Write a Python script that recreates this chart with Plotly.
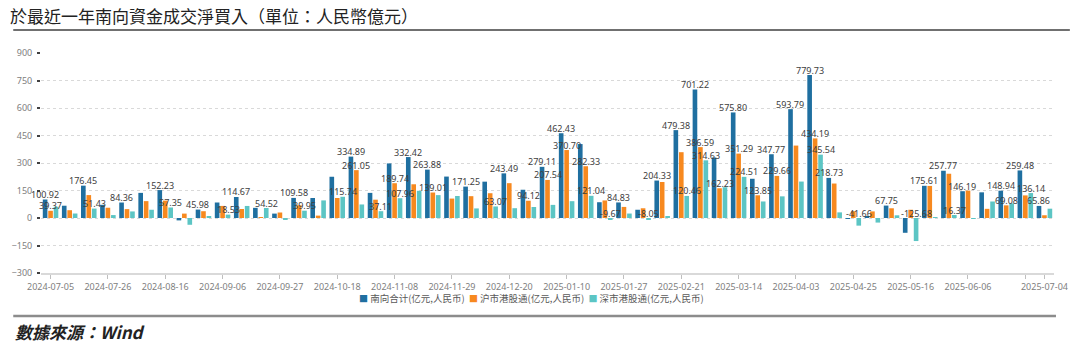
import plotly.graph_objects as go

# ---------------- data ----------------
weeks = [
    "2024-07-05", "2024-07-12", "2024-07-19", "2024-07-26", "2024-08-02", "2024-08-09",
    "2024-08-16", "2024-08-23", "2024-08-30", "2024-09-06", "2024-09-13", "2024-09-20",
    "2024-09-27", "2024-09-30", "2024-10-11", "2024-10-18", "2024-10-25", "2024-11-01",
    "2024-11-08", "2024-11-15", "2024-11-22", "2024-11-29", "2024-12-06", "2024-12-13",
    "2024-12-20", "2024-12-27", "2025-01-03", "2025-01-10", "2025-01-17", "2025-01-24",
    "2025-01-27", "2025-02-07", "2025-02-14", "2025-02-21", "2025-02-28", "2025-03-07",
    "2025-03-14", "2025-03-21", "2025-03-28", "2025-04-03", "2025-04-11", "2025-04-17",
    "2025-04-25", "2025-04-30", "2025-05-09", "2025-05-16", "2025-05-23", "2025-05-30",
    "2025-06-06", "2025-06-13", "2025-06-20", "2025-06-27", "2025-07-04",
]

south_total = [
    100.92, 67.0, 176.45, 72.0, 84.36, 137.0, 152.23, -13.0, 45.98, 84.53,
    114.67, 55.40, 24.0, 109.58, 109.0, 225.0, 334.89, 137.0, 297.70, 332.42,
    263.88, 226.0, 171.25, 198.2, 243.49, 154.12, 279.11, 462.43, 403.37, 86.0,
    84.83, 45.0, 204.33, 479.38, 701.22, 330.0, 575.80, 214.0, 347.77, 593.79,
    779.73, 218.73, -4.66, 11.0, 67.75, -80.68, 175.61, 257.77, 146.19, 140.0,
    148.94, 259.48, 65.86,
]
sh_connect = [
    39.37, 42.5, 125.02, 56.0, 48.5, 92.0, 94.88, 24.0, 37.0, 66.0,
    49.0, 0.88, 30.0, 69.63, 13.0, 109.26, 261.05, 99.89, 189.74, 184.0,
    139.01, 106.0, 119.0, 135.13, 190.0, 94.12, 207.54, 370.70, 282.33, 95.67,
    60.5, 53.05, 196.5, 358.92, 386.59, 162.23, 351.29, 123.85, 229.66, 395.0,
    434.19, 188.0, 37.0, 36.0, 53.0, 45.0, 175.0, 241.40, 149.5, 50.0,
    69.08, 123.34, 15.0,
]
sz_connect = [
    61.55, 24.5, 51.43, 16.0, 35.86, 45.0, 57.35, -37.0, 8.98, 18.53,
    65.67, 54.52, -6.0, 39.95, 96.0, 115.74, 73.84, 37.11, 107.96, 148.42,
    124.87, 120.0, 52.25, 63.07, 53.49, 60.0, 71.57, 91.73, 121.04, -9.67,
    24.33, -8.05, 7.83, 120.46, 314.63, 167.77, 224.51, 90.15, 118.11, 198.79,
    345.54, 30.73, -41.66, -25.0, 14.75, -125.68, 0.61, 16.37, -3.31, 90.0,
    79.86, 136.14, 50.86,
]

# indices of bars carrying a value label
total_labeled = [0, 2, 4, 6, 8, 10, 13, 16, 19, 20, 22, 24, 26, 27, 30, 32, 33, 34,
                 36, 38, 39, 40, 41, 44, 46, 47, 48, 50, 51, 52]
sh_labeled = [0, 16, 18, 20, 25, 26, 27, 28, 34, 35, 36, 37, 38, 40, 50]
sz_labeled = [2, 6, 9, 11, 13, 15, 17, 18, 23, 28, 29, 31, 33, 34, 36, 40, 42, 45, 47, 51]

series_names = ["南向合计(亿元,人民币)", "沪市港股通(亿元,人民币)", "深市港股通(亿元,人民币)"]
colors = ["#1F6FA0", "#F7891F", "#5CC5C4"]

tick_idx = [0, 3, 6, 9, 12, 15, 18, 21, 24, 27, 30, 33, 36, 39, 42, 45, 48, 51, 52]
y_ticks = [-300, -150, 0, 150, 300, 450, 600, 750, 900]

title_text = "於最近一年南向資金成交淨買入（單位：人民幣億元）"
source_text = "數據來源：Wind"

# ---------------- figure ----------------
W, H = 1080, 352
ml, mr, mt, mb = 38, 20, 53, 79
pw, ph = W - ml - mr, H - mt - mb

def px_x(p):
    return (p - ml) / pw

def px_y(p):
    return (H - mb - p) / ph

fig = go.Figure()
all_series = [south_total, sh_connect, sz_connect]
for name, vals, col in zip(series_names, all_series, colors):
    fig.add_trace(go.Bar(x=weeks, y=vals, name=name, showlegend=False,
                         marker=dict(color=col, line=dict(width=0))))

annotations = []
slot = pw / len(weeks) * (1 - 0.145) / 3
label_sets = [total_labeled, sh_labeled, sz_labeled]
for s, (vals, idxs) in enumerate(zip(all_series, label_sets)):
    for i in idxs:
        v = vals[i]
        annotations.append(dict(
            x=weeks[i], y=max(v, 0), xref="x", yref="y",
            text=f"{v:.2f}", showarrow=False,
            xanchor="center", yanchor="middle",
            xshift=(s - 1) * slot, yshift=5,
            font=dict(family="Noto Sans, Noto Sans CJK SC", size=9, color="#404040"),
        ))

# legend row (colour key + series names)
legend_parts = []
for name, col in zip(series_names, colors):
    legend_parts.append(f"<span style='color:{col};font-size:9px'>■</span> {name}")
annotations.append(dict(
    x=px_x(533), y=px_y(298), xref="paper", yref="paper",
    text="  ".join(legend_parts), showarrow=False,
    xanchor="center", yanchor="middle",
    font=dict(family="Noto Sans CJK SC", size=9.5, color="#595959"),
))

annotations.append(dict(
    x=px_x(10), y=px_y(331), xref="paper", yref="paper", text=source_text,
    showarrow=False, xanchor="left", yanchor="middle",
    font=dict(family="Noto Sans CJK TC", size=17, color="#222222", style="italic", weight="bold"),
))

shapes = [
    dict(type="line", xref="paper", yref="paper", x0=px_x(10), x1=px_x(1076),
         y0=px_y(30), y1=px_y(30), line=dict(color="#404040", width=1.5)),
    dict(type="line", xref="paper", yref="paper", x0=px_x(10), x1=px_x(1062),
         y0=px_y(316), y1=px_y(316), line=dict(color="#8c8c8c", width=2.5)),
]

tick_text = [weeks[i] if i != 51 else "" for i in tick_idx]

fig.update_layout(
    width=W, height=H,
    margin=dict(l=ml, r=mr, t=mt, b=mb, pad=0),
    paper_bgcolor="white", plot_bgcolor="white",
    barmode="group", bargap=0.145, bargroupgap=0.15,
    title=dict(text=title_text, x=10 / W, xref="container", xanchor="left",
               y=1 - 17 / H, yref="container", yanchor="middle",
               font=dict(family="Noto Sans CJK TC", size=17, color="#222222")),
    showlegend=False,
    annotations=annotations,
    shapes=shapes,
    font=dict(family="Noto Sans, Noto Sans CJK SC"),
)

fig.update_xaxes(
    type="category", categoryorder="array", categoryarray=weeks,
    range=[-0.5, len(weeks) - 0.5],
    tickmode="array", tickvals=[weeks[i] for i in tick_idx], ticktext=tick_text,
    tickangle=0,
    ticks="outside", ticklen=4, tickwidth=1, tickcolor="#bfbfbf",
    showline=True, linecolor="#d9d9d9", linewidth=2,
    showgrid=False, zeroline=False,
    tickfont=dict(family="Noto Sans", size=9, color="#808080"),
)
fig.update_yaxes(
    range=[-300, 900], tickmode="array", tickvals=y_ticks,
    ticks="outside", ticklen=3, tickwidth=2, tickcolor="#404040",
    ticklabelstandoff=3,
    showgrid=True, gridcolor="#d9d9d9", griddash="dot", gridwidth=1,
    zeroline=False, showline=False,
    tickfont=dict(family="Noto Sans", size=9, color="#808080"),
)

fig.write_html("out.html")
